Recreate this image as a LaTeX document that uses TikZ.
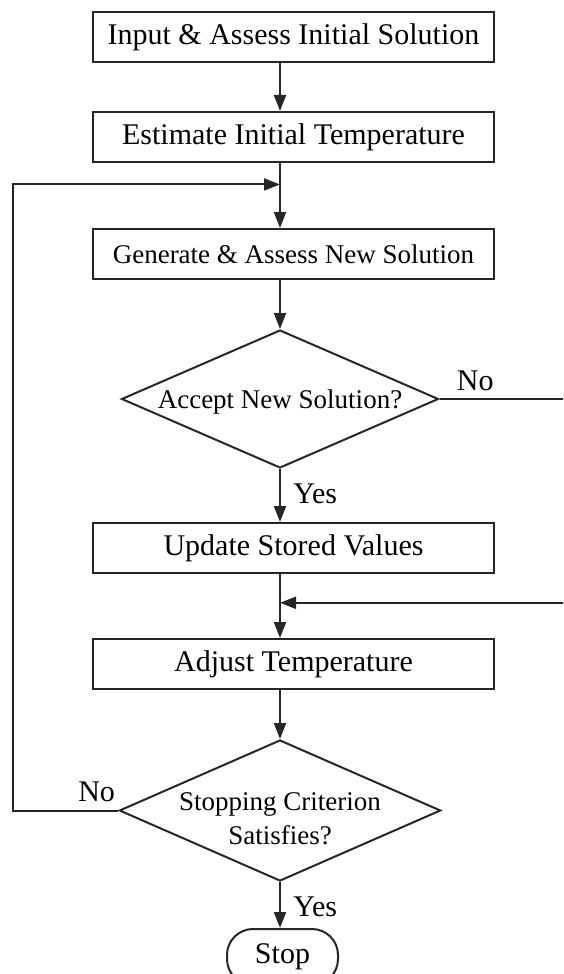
\documentclass[tikz,border=0pt]{standalone}
\usepackage{fontspec}
\setmainfont{Liberation Serif}
\usepackage{tikz}
\usetikzlibrary{shapes.geometric, arrows.meta, positioning, calc}

\begin{document}
\begin{tikzpicture}[
    x=0.5pt, y=-0.5pt,
    node distance=24pt,
    block/.style={rectangle, draw=black!85, minimum width=200.5pt, minimum height=25pt, inner sep=0pt, align=center, font=\fontsize{15}{18}\selectfont, line width=1pt},
    decision/.style={diamond, draw=black!85, minimum width=158.5pt, aspect=2.3, inner xsep=0pt, inner ysep=-4pt, align=center, font=\fontsize{13.5}{17}\selectfont, line width=1pt},
    terminal/.style={rectangle, draw=black!85, rounded corners=13pt, minimum width=55.5pt, minimum height=28pt, inner sep=0pt, font=\fontsize{15}{18}\selectfont, line width=1pt},
    lbl/.style={inner sep=0pt, font=\fontsize{15}{18}\selectfont},
    arrow/.style={-{Triangle[length=8pt, width=6pt]}, line width=1pt, draw=black!85},
]
\useasboundingbox (0,0) rectangle (563,974);
\clip (0,0) rectangle (563,974);

\node[block] (input) at (293.5,37) {Input \& Assess Initial Solution};
\node[block, below=24pt of input] (estim) {Estimate Initial Temperature};
\node[block, below=32.5pt of estim, font=\fontsize{13.5}{16}\selectfont] (gener) {Generate \& Assess New Solution};
\node[decision, below=24.5pt of gener, xshift=-6.75pt, minimum height=69pt] (accept) {\raisebox{-1.5pt}[\height][\depth]{Accept New Solution?}};
\node[block, below=26.5pt of accept, xshift=6.75pt] (update) {Update Stored Values};
\node[block, below=32pt of update] (adjust) {Adjust Temperature};
\node[decision, below=24.5pt of adjust, xshift=-6.75pt, minimum height=70.5pt] (crit) {\raisebox{-5pt}[\height][\depth]{\begin{tabular}{@{}c@{}}Stopping Criterion\\Satisfies?\end{tabular}}};
\node[terminal, below=23pt of crit, xshift=1.25pt] (stop) {Stop};

\coordinate (j1) at ($(estim.south -| accept)!0.33!(gener.north -| accept)$);
\coordinate (j2) at ($(update.south -| accept)!0.45!(adjust.north -| accept)$);
\coordinate (lx) at (13,0);
\coordinate (rx) at (600,0);

\draw[arrow] (input.south -| accept) -- (estim.north -| accept);
\draw[arrow] (estim.south -| accept) -- (gener.north -| accept);
\draw[arrow] (gener.south -| accept) -- (accept.north);
\draw[arrow] (accept.south) -- (update.north -| accept);
\draw[arrow] (update.south -| accept) -- (adjust.north -| accept);
\draw[arrow] (adjust.south -| accept) -- (crit.north);
\draw[arrow] (crit.south) -- (stop.north -| crit);
\draw[arrow] (crit.west) -- (crit.west -| lx) |- (j1);
\draw[arrow] (accept.east) -- (accept.east -| rx) |- (j2);

\node[lbl, anchor=south west] (no1) at ([xshift=8.5pt, yshift=4pt]accept.east) {No};
\node[lbl, anchor=north west] (yes1) at ([xshift=6.5pt, yshift=-7pt]accept.south) {Yes};
\node[lbl, anchor=south east] (no2) at ([xshift=-1.5pt, yshift=4pt]crit.west) {No};
\node[lbl, anchor=north west] (yes2) at ([xshift=6.5pt, yshift=-7pt]crit.south) {Yes};
\end{tikzpicture}
\end{document}
